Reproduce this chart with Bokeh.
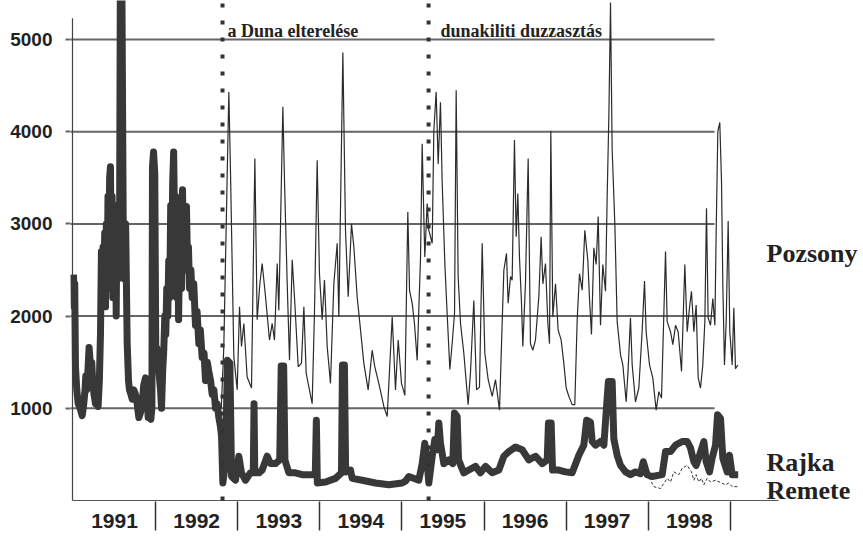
from bokeh.plotting import figure
from bokeh.models import Range1d, FixedTicker
from bokeh.embed import file_html
from bokeh.resources import INLINE
from bokeh.core.properties import value

# Danube discharge (m3/s) at Pozsony (Bratislava), Rajka and Remete, 1991-1998
years = ["1991", "1992", "1993", "1994", "1995", "1996", "1997", "1998"]
flow_ticks = [1000, 2000, 3000, 4000, 5000]

pozsony_t = [
    1992.800, 1992.831, 1992.892, 1992.912, 1992.953, 1992.994, 1993.022, 1993.046,
    1993.075, 1993.115, 1993.168, 1993.209, 1993.237, 1993.270, 1993.298, 1993.339,
    1993.387, 1993.420, 1993.448, 1993.481, 1993.501, 1993.550, 1993.570, 1993.603,
    1993.631, 1993.664, 1993.696, 1993.737, 1993.777, 1993.806, 1993.834, 1993.907,
    1993.935, 1993.968, 1993.996, 1994.029, 1994.057, 1994.090, 1994.130, 1994.171,
    1994.212, 1994.232, 1994.281, 1994.313, 1994.346, 1994.386, 1994.415, 1994.455,
    1994.496, 1994.536, 1994.589, 1994.638, 1994.670, 1994.719, 1994.780, 1994.821,
    1994.882, 1994.922, 1994.955, 1994.995, 1995.036, 1995.072, 1995.093, 1995.125,
    1995.153, 1995.186, 1995.227, 1995.247, 1995.267, 1995.279, 1995.308, 1995.328,
    1995.369, 1995.389, 1995.417, 1995.442, 1995.470, 1995.490, 1995.523, 1995.551,
    1995.584, 1995.612, 1995.641, 1995.661, 1995.685, 1995.714, 1995.754, 1995.807,
    1995.835, 1995.876, 1995.909, 1995.945, 1995.978, 1996.010, 1996.051, 1996.100,
    1996.140, 1996.189, 1996.221, 1996.242, 1996.274, 1996.294, 1996.323, 1996.343,
    1996.371, 1996.392, 1996.412, 1996.432, 1996.457, 1996.473, 1996.505, 1996.538,
    1996.566, 1996.595, 1996.627, 1996.668, 1996.696, 1996.717, 1996.749, 1996.778,
    1996.798, 1996.814, 1996.838, 1996.871, 1996.903, 1996.940, 1996.972, 1997.001,
    1997.033, 1997.074, 1997.106, 1997.135, 1997.163, 1997.196, 1997.228, 1997.265,
    1997.285, 1997.309, 1997.338, 1997.366, 1997.391, 1997.419, 1997.447, 1997.480,
    1997.500, 1997.521, 1997.541, 1997.561, 1997.594, 1997.622, 1997.663, 1997.691,
    1997.732, 1997.756, 1997.784, 1997.805, 1997.845, 1997.886, 1997.926, 1997.955,
    1997.975, 1998.016, 1998.056, 1998.097, 1998.130, 1998.162, 1998.190, 1998.211,
    1998.231, 1998.272, 1998.300, 1998.333, 1998.365, 1998.406, 1998.446, 1998.475,
    1998.503, 1998.527, 1998.556, 1998.584, 1998.609, 1998.637, 1998.665, 1998.690,
    1998.710, 1998.730, 1998.759, 1998.787, 1998.812, 1998.828, 1998.848, 1998.872,
    1998.893, 1998.909, 1998.929, 1998.950, 1998.974, 1998.994, 1999.023, 1999.043,
    1999.063, 1999.092,
]
pozsony_q = [
    1000, 1670, 4430, 3580, 1560, 1200, 2100, 1670,
    1920, 1340, 1220, 3710, 1960, 2350, 2570, 2210,
    1740, 1920, 1740, 2570, 2060, 4270, 3470, 2350,
    1520, 2610, 2140, 1450, 1490, 2100, 1380, 1050,
    2030, 3690, 2460, 1960, 2390, 1670, 1270, 2350,
    2790, 1990, 4860, 2930, 2210, 3000, 2750, 2210,
    1850, 1490, 1200, 1630, 1450, 1270, 1020, 910,
    1990, 1200, 1740, 1270, 1140, 3130, 2280, 2140,
    1920, 1520, 2640, 3870, 3080, 2640, 3220, 2930,
    2790, 4010, 4430, 3650, 4320, 3470, 2570, 2030,
    1420, 1700, 2030, 4450, 2430, 1920, 1600, 1040,
    1380, 2170, 1200, 1230, 2790, 1600, 1310, 1130,
    1310, 980, 1920, 2500, 2680, 2140, 2430, 2390,
    3910, 2860, 3330, 2640, 2140, 1670, 2350, 3710,
    1700, 1630, 1740, 2210, 2860, 2350, 2570, 1920,
    1700, 4010, 1990, 2350, 1850, 1740, 1490, 1220,
    1130, 1040, 1040, 1960, 2460, 2280, 2930, 2600,
    2190, 1800, 2740, 2560, 3080, 1900, 2560, 2270,
    3280, 4180, 5400, 3810, 2990, 1940, 1580, 1470,
    1070, 1430, 1980, 1470, 1070, 1220, 1830, 2380,
    1830, 1470, 1330, 980, 1180, 1110, 2010, 2700,
    1940, 1830, 1690, 1900, 1830, 1400, 2560, 1830,
    2090, 2270, 1830, 2120, 1330, 1220, 1470, 1940,
    3170, 1980, 1900, 2190, 1900, 2920, 4000, 4100,
    3460, 2340, 1470, 1940, 3030, 1830, 1470, 2090,
    1430, 1470,
]

rajka_t = [
    1991.000, 1991.008, 1991.015, 1991.024, 1991.040, 1991.057, 1991.080, 1991.106,
    1991.125, 1991.138, 1991.150, 1991.160, 1991.175, 1991.190, 1991.207, 1991.222,
    1991.236, 1991.250, 1991.268, 1991.285, 1991.300, 1991.315, 1991.329, 1991.340,
    1991.350, 1991.360, 1991.370, 1991.380, 1991.390, 1991.400, 1991.410, 1991.420,
    1991.430, 1991.440, 1991.450, 1991.460, 1991.470, 1991.480, 1991.490, 1991.500,
    1991.510, 1991.520, 1991.530, 1991.540, 1991.550, 1991.560, 1991.570, 1991.590,
    1991.605, 1991.620, 1991.635, 1991.654, 1991.670, 1991.682, 1991.700, 1991.715,
    1991.735, 1991.755, 1991.775, 1991.796, 1991.815, 1991.836, 1991.855, 1991.877,
    1991.895, 1991.910, 1991.925, 1991.942, 1991.955, 1991.962, 1991.975, 1991.990,
    1992.003, 1992.015, 1992.030, 1992.045, 1992.060, 1992.072, 1992.086, 1992.100,
    1992.112, 1992.124, 1992.136, 1992.148, 1992.160, 1992.172, 1992.184, 1992.196,
    1992.208, 1992.220, 1992.232, 1992.244, 1992.256, 1992.268, 1992.280, 1992.292,
    1992.304, 1992.316, 1992.328, 1992.340, 1992.352, 1992.364, 1992.376, 1992.388,
    1992.400, 1992.413, 1992.430, 1992.445, 1992.465, 1992.486, 1992.505, 1992.527,
    1992.545, 1992.567, 1992.590, 1992.608, 1992.630, 1992.648, 1992.670, 1992.689,
    1992.710, 1992.730, 1992.750, 1992.770, 1992.790, 1992.803,
    1992.819, 1992.851, 1992.875, 1992.905,
    1992.925, 1992.973, 1993.014, 1993.046, 1993.095, 1993.156, 1993.190, 1993.199,
    1993.208, 1993.260, 1993.298, 1993.359, 1993.400, 1993.460, 1993.512, 1993.530,
    1993.560, 1993.575, 1993.623, 1993.704, 1993.785, 1993.867, 1993.945, 1993.958,
    1993.970, 1994.070, 1994.191, 1994.264, 1994.276, 1994.300, 1994.315, 1994.374,
    1994.394, 1994.516, 1994.678, 1994.841, 1995.003, 1995.044, 1995.084, 1995.206,
    1995.247, 1995.279, 1995.308, 1995.328, 1995.369, 1995.401, 1995.430, 1995.450,
    1995.470, 1995.511, 1995.572, 1995.620, 1995.640, 1995.673, 1995.690, 1995.754,
    1995.815, 1995.897, 1995.957, 1996.018, 1996.100, 1996.181, 1996.242, 1996.302,
    1996.384, 1996.465, 1996.546, 1996.627, 1996.709, 1996.770, 1996.785, 1996.818,
    1996.835, 1996.911, 1996.993, 1997.074, 1997.155, 1997.216, 1997.250, 1997.297,
    1997.318, 1997.358, 1997.419, 1997.460, 1997.500, 1997.515, 1997.561, 1997.581,
    1997.622, 1997.663, 1997.724, 1997.784, 1997.845, 1997.906, 1997.940, 1997.987,
    1998.048, 1998.170, 1998.211, 1998.272, 1998.333, 1998.414, 1998.475, 1998.515,
    1998.556, 1998.584, 1998.625, 1998.678, 1998.706, 1998.747, 1998.779, 1998.820,
    1998.845, 1998.881, 1998.909, 1998.962, 1998.990, 1999.023, 1999.096,
]
rajka_q = [
    2450, 2100, 2350, 1450, 1200, 1050, 1000, 920,
    1050, 1170, 1350, 1200, 1400, 1660, 1450, 1500,
    1250, 1150, 1050, 1100, 1020, 1300, 1820, 2700,
    2100, 2750, 2200, 2900, 2100, 3000, 2300, 3300,
    2400, 3500, 3620, 2600, 3300, 2200, 3000, 2300,
    3100, 2000, 3200, 2400, 3100, 2600, 5500, 5500,
    3100, 2400, 3000, 1700, 1300, 1200, 1150, 1100,
    1200, 1150, 1050, 900, 950, 1050, 1250, 1330,
    1100, 900, 950, 880, 1000, 3620, 3780, 3550,
    1500, 1650, 1500, 1350, 1200, 1000, 1400, 1640,
    2000, 1800, 2300, 2000, 2600, 2200, 3200, 2500,
    3450, 3780, 2900, 3300, 2200, 2900, 1960, 2700,
    2900, 2300, 3370, 2600, 3040, 2500, 3190, 2600,
    2750, 2300, 2500, 2200, 2350, 1900, 2050, 1700,
    1850, 1550, 1600, 1300, 1500, 1400, 1300, 1150,
    1200, 1000, 1050, 900, 800, 700,
    190, 400, 1520, 1490,
    260, 220, 480, 300, 220, 300, 300, 1050,
    300, 300, 330, 480, 400, 400, 440, 1460,
    1460, 440, 300, 300, 280, 280, 280, 870,
    190, 200, 240, 300, 1470, 1470, 310, 330,
    240, 220, 190, 170, 190, 210, 260, 220,
    400, 620, 400, 190, 480, 660, 550, 840,
    620, 400, 440, 400, 950, 910, 440, 300,
    330, 370, 300, 370, 300, 330, 480, 530,
    580, 550, 440, 480, 400, 440, 840, 840,
    330, 330, 310, 300, 490, 600, 870, 850,
    640, 600, 640, 600, 1110, 1290, 1290, 670,
    490, 380, 310, 280, 310, 290, 420, 280,
    260, 280, 530, 530, 600, 640, 640, 570,
    420, 380, 490, 640, 420, 310, 460, 600,
    930, 890, 460, 310, 490, 280, 280,
]

remete_t = [
    1997.947, 1997.987, 1998.028, 1998.069, 1998.150, 1998.178, 1998.231, 1998.272,
    1998.312, 1998.373, 1998.414, 1998.475, 1998.527, 1998.556, 1998.584, 1998.617,
    1998.649, 1998.678, 1998.718, 1998.759, 1998.820, 1998.942, 1998.982, 1999.023,
    1999.096,
]
remete_q = [
    400, 270, 220, 150, 130, 170, 240, 200,
    310, 280, 350, 380, 310, 220, 280, 200,
    240, 170, 240, 200, 220, 170, 190, 150,
    150,
]

event_t = [1992.815, 1995.325]
event_labels = ["a Duna elterelése", "dunakiliti duzzasztás"]
station_labels = ["Pozsony", "Rajka", "Remete"]

# horizontal scale: one year = 82.1 px, 1991.0 sits at x = 73 px
PX_YEAR = 82.1
x_start = 1991 - 3 / PX_YEAR
x_end = x_start + 793 / PX_YEAR
y_start, y_end = -11, 5423

p = figure(width=863, height=539, output_backend="svg", toolbar_location=None,
           x_range=Range1d(x_start, x_end), y_range=Range1d(y_start, y_end),
           min_border_left=70, min_border_right=0, min_border_top=0,
           min_border_bottom=38)
p.outline_line_color = None
p.background_fill_color = "white"
p.border_fill_color = "white"
p.xgrid.visible = False
p.ygrid.visible = False

# y axis: bold flow labels, short grey ticks that continue into the grid lines
p.yaxis.ticker = FixedTicker(ticks=flow_ticks)
p.yaxis.axis_line_color = None
p.yaxis.major_tick_out = 5
p.yaxis.major_tick_in = 0
p.yaxis.major_tick_line_color = "#666666"
p.yaxis.major_tick_line_width = 2
p.yaxis.minor_tick_line_color = None
p.yaxis.major_label_standoff = 13
p.yaxis.major_label_text_font = "Liberation Sans"
p.yaxis.major_label_text_font_style = "bold"
p.yaxis.major_label_text_font_size = "19px"
p.yaxis.major_label_text_color = "#222222"

# x axis: year names centred in each year, separators at year boundaries
mid_ticks = [int(y) + 0.5 for y in years]
bounds = [int(y) + 1 for y in years]
p.xaxis.ticker = FixedTicker(ticks=mid_ticks, minor_ticks=bounds)
p.xaxis.major_label_overrides = {t: y for t, y in zip(mid_ticks, years)}
p.xaxis.axis_line_color = None
p.xaxis.major_tick_line_color = None
p.xaxis.minor_tick_out = 29
p.xaxis.minor_tick_in = 0
p.xaxis.minor_tick_line_color = "#333333"
p.xaxis.minor_tick_line_width = 1.5
p.xaxis.major_label_standoff = -17
p.xaxis.major_label_text_font = "Liberation Sans"
p.xaxis.major_label_text_font_style = "bold"
p.xaxis.major_label_text_font_size = "21px"
p.xaxis.major_label_text_color = "#222222"

# grid lines, axis lines
axis_x = 1991 - 1 / PX_YEAR
grid_end = 1991 + 641 / PX_YEAR
p.segment(x0=[x_start] * len(flow_ticks), y0=flow_ticks,
          x1=[grid_end] * len(flow_ticks), y1=flow_ticks,
          line_color="#666666", line_width=2)
p.segment(x0=[axis_x], y0=[0], x1=[axis_x], y1=[5230],
          line_color="#444444", line_width=1.2)
p.segment(x0=[axis_x], y0=[0], x1=[1991 + 705 / PX_YEAR], y1=[0],
          line_color="#555555", line_width=1.2)

# discharge series
p.line(rajka_t, rajka_q, line_color="#383838", line_width=7, line_join="round")
p.line(remete_t, remete_q, line_color="#333333", line_width=1, line_dash="3 2")
p.line(pozsony_t, pozsony_q, line_color="#2b2b2b", line_width=1.2)

# event markers
p.segment(x0=event_t, y0=[0, 0], x1=event_t, y1=[5390, 5390],
          line_color="#333333", line_width=4, line_dash="4 13", line_cap="butt")
p.text(x=event_t, y=[5089, 5089], text=event_labels, x_offset=[5, 12],
       text_font=value("Liberation Serif"), text_font_style="bold",
       text_font_size="18px", text_baseline="alphabetic", text_color="#222222")

# station names at the right end of the series
label_x = 1991 + 693 / PX_YEAR
p.text(x=[label_x] * 3, y=[2680, 412, 108], text=station_labels,
       text_font=value("Liberation Serif"), text_font_style="bold",
       text_font_size="26px", text_baseline="alphabetic", text_color="#222222")

open("out.html", "w").write(file_html(p, INLINE))
